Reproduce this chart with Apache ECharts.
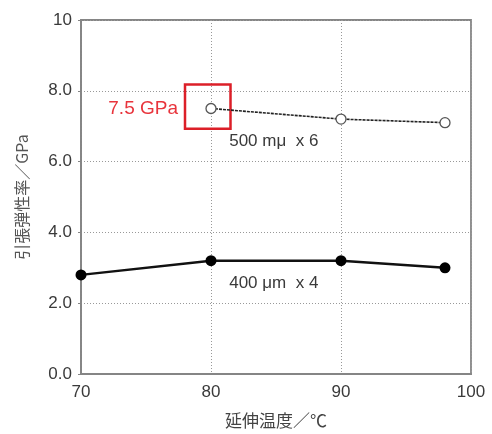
<!DOCTYPE html>
<html>
<head>
<meta charset="utf-8">
<script src="https://cdn.jsdelivr.net/npm/echarts@6/dist/echarts.min.js"></script>
<style>
  html, body { margin: 0; padding: 0; background: #fff; }
  #chart { width: 492px; height: 434px; }
</style>
</head>
<body>
<div id="chart"></div>
<script>
// Drawing temperature (°C)
const temps500 = [80, 90, 98];
const modulus500 = [7.5, 7.2, 7.1];   // 500 mμ x 6
const temps400 = [70, 80, 90, 98];
const modulus400 = [2.8, 3.2, 3.2, 3.0]; // 400 μm x 4

const xTicks = [70, 80, 90, 100];
const yTicks = ['0.0', '2.0', '4.0', '6.0', '8.0', '10'];

const label500 = '500 mμ  x 6';
const label400 = '400 μm  x 4';
const peakLabel = '7.5 GPa';

const font = '"Liberation Sans", Arial, sans-serif';
const cjkFont = '"Noto Sans CJK JP", "Noto Sans CJK SC", sans-serif';

const chart = echarts.init(document.getElementById('chart'));

chart.setOption({
  animation: false,
  grid: {
    left: 81, right: 21, top: 20, bottom: 59,
    show: true, borderColor: '#858585', borderWidth: 1.8,
    backgroundColor: 'transparent'
  },
  xAxis: {
    type: 'value',
    min: xTicks[0], max: xTicks[xTicks.length - 1], interval: 10,
    name: '延伸温度／℃',
    nameLocation: 'middle', nameGap: 38,
    nameTextStyle: { fontFamily: cjkFont, fontSize: 17, color: '#444' },
    axisLine: { show: true, lineStyle: { color: '#858585', width: 1.8 } },
    axisTick: { show: false },
    axisLabel: { fontFamily: font, fontSize: 17, color: '#3a3a3a', margin: 10 },
    splitLine: { show: true, lineStyle: { color: '#999', type: [1, 2], width: 1 } }
  },
  yAxis: {
    type: 'value',
    min: 0, max: 10, interval: 2,
    name: '引張弾性率／GPa',
    nameLocation: 'middle', nameGap: 51,
    nameTextStyle: { fontFamily: cjkFont, fontSize: 16, color: '#555' },
    axisLine: { show: true, lineStyle: { color: '#858585', width: 1.8 } },
    axisTick: { show: true, inside: false, length: 3, lineStyle: { color: '#858585' } },
    axisLabel: {
      fontFamily: font, fontSize: 17, color: '#3a3a3a', margin: 9,
      formatter: (v) => yTicks[Math.round(v / 2)]
    },
    splitLine: { show: true, lineStyle: { color: '#999', type: [1, 2], width: 1 } }
  },
  series: [
    {
      name: label500,
      type: 'line',
      data: temps500.map((t, i) => [t, modulus500[i]]),
      symbol: 'circle',
      symbolSize: 10,
      itemStyle: { color: '#fff', borderColor: '#555', borderWidth: 1.3 },
      lineStyle: { color: '#222', width: 1.6, type: [3, 1] },
      z: 3,
      markPoint: {
        symbol: 'rect', symbolSize: 0, silent: true,
        data: [
          {
            coord: [81.4, 6.56], value: 0,
            label: { show: true, position: 'right', distance: 0, formatter: label500,
              fontFamily: font, fontSize: 17, color: '#3a3a3a' }
          },
          {
            coord: [78, modulus500[0]], value: 0,
            label: { show: true, position: 'left', distance: 7, formatter: peakLabel,
              fontFamily: font, fontSize: 19, color: '#e8343c' }
          }
        ]
      },
      markArea: {
        silent: true,
        itemStyle: { color: 'transparent', borderColor: '#dc1f28', borderWidth: 2.5 },
        data: [[{ coord: [78.0, 8.18] }, { coord: [81.5, 6.93] }]]
      }
    },
    {
      name: label400,
      type: 'line',
      data: temps400.map((t, i) => [t, modulus400[i]]),
      symbol: 'circle',
      symbolSize: 11,
      itemStyle: { color: '#000' },
      lineStyle: { color: '#111', width: 2.4 },
      z: 3,
      markPoint: {
        symbol: 'rect', symbolSize: 0, silent: true,
        data: [
          {
            coord: [81.4, 2.56], value: 0,
            label: { show: true, position: 'right', distance: 0, formatter: label400,
              fontFamily: font, fontSize: 17, color: '#3a3a3a' }
          }
        ]
      }
    }
  ]
});
</script>
</body>
</html>
